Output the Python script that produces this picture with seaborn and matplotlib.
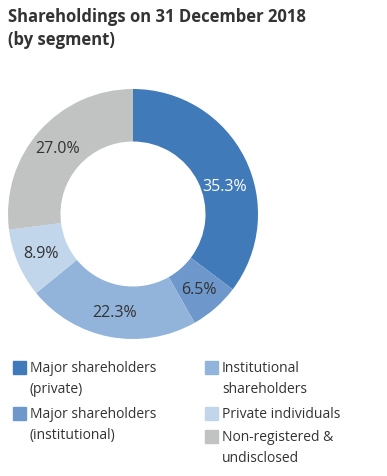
import matplotlib
matplotlib.use("Agg")
import matplotlib.pyplot as plt
from matplotlib.patches import Rectangle
import seaborn as sns

# data
segments = ["Major shareholders\n(private)", "Major shareholders\n(institutional)",
            "Institutional\nshareholders", "Private individuals",
            "Non-registered &\nundisclosed"]
shares = [35.3, 6.5, 22.3, 8.9, 27.0]
colors = ["#417AB9", "#6E98CB", "#92B4DA", "#C1D5EB", "#C1C3C3"]
label_colors = ["white", "#333333", "#333333", "#333333", "#333333"]

sns.set_theme(style="white")
plt.rcParams["font.family"] = ["Open Sans", "DejaVu Sans"]

W, H = 387, 477
fig = plt.figure(figsize=(W / 100, H / 100), dpi=100)

# donut: centre (133, 215) px, radius 125 px
cx, cy, r = 133, 215, 125
ax = fig.add_axes([(cx - r) / W, (H - cy - r) / H, 2 * r / W, 2 * r / H])
wedges, texts, autotexts = ax.pie(
    shares, colors=colors, startangle=90, counterclock=False,
    wedgeprops=dict(width=0.42, edgecolor="none"),
    autopct=lambda p: f"{p:.1f}%", pctdistance=0.8,
    textprops=dict(fontsize=11.5))
for t, c in zip(autotexts, label_colors):
    t.set_color(c)
# the large slice's label sits a little lower in the original
x0, y0 = autotexts[0].get_position()
autotexts[0].set_position((x0 + 0.02, y0 - 0.13))
ax.set_xlim(-1, 1)
ax.set_ylim(-1, 1)
ax.set_aspect("equal")
ax.axis("off")

# title
fig.text(8 / W, 1 - 8 / H, "Shareholdings on 31 December 2018\n(by segment)",
         ha="left", va="top", fontsize=12, fontweight="bold", color="#333333",
         linespacing=1.35)

# legend, two columns, square aligned with first text line
col_x = [13, 205]
rows = [(0, 368), (0, 414), (1, 368), (1, 414), (1, 437)]
for (col, y), lab, c in zip(rows, segments, colors):
    x = col_x[col]
    fig.patches.append(Rectangle((x / W, 1 - (y + 7) / H), 13 / W, 13 / H,
                                 transform=fig.transFigure, color=c))
    fig.text((x + 17) / W, 1 - (y - 7) / H, lab, ha="left", va="top",
             fontsize=10, color="#333333", linespacing=1.55)

fig.savefig("out.png", dpi=100)
